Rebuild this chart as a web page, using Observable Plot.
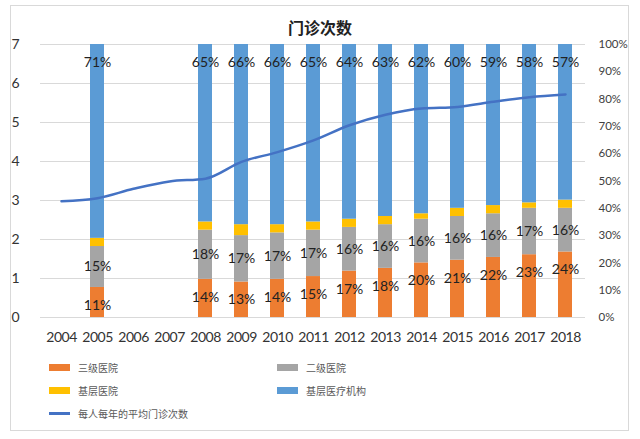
<!DOCTYPE html>
<html>
<head>
<meta charset="utf-8">
<script src="https://cdn.jsdelivr.net/npm/d3@7"></script>
<script src="https://cdn.jsdelivr.net/npm/@observablehq/plot@0.6"></script>
<style>
  html, body { margin: 0; padding: 0; background: #fff; }
  #wrap { position: relative; width: 640px; height: 439px; overflow: hidden; font-family: Lato, "Noto Sans CJK SC", sans-serif; }
  #frame { position: absolute; left: 10px; top: 5px; width: 619px; height: 426px; border: 1px solid #D9D9D9; box-sizing: border-box; }
  #title { position: absolute; left: 0; width: 640px; top: 16px; text-align: center; font: bold 16px "Noto Sans CJK SC", sans-serif; color: #222; line-height: 22px; }
  #chart { position: absolute; left: 0; top: 0; }
  #chart [aria-label="x-axis tick label"] text { letter-spacing: -0.5px; }
  #legend { position: absolute; left: 49px; top: 359px; width: 560px; font: 10px "Noto Sans CJK SC", sans-serif; color: #595959; }
  .item { position: absolute; display: flex; align-items: center; height: 16px; white-space: nowrap; }
  .sw { width: 21px; height: 7px; margin-right: 8px; }
  .ln { width: 21px; height: 3px; margin-right: 8px; }
</style>
</head>
<body>
<div id="wrap">
  <div id="frame"></div>
  <div id="chart"></div>
  <div id="title"></div>
  <div id="legend"></div>
</div>
<script>
// ---- data ----
const title = "门诊次数";
const years = ["2004","2005","2006","2007","2008","2009","2010","2011","2012","2013","2014","2015","2016","2017","2018"];
const visits = [2.98, 3.06, 3.30, 3.49, 3.56, 3.99, 4.24, 4.54, 4.93, 5.20, 5.36, 5.40, 5.53, 5.65, 5.72];
const barYears = ["2005","2008","2009","2010","2011","2012","2013","2014","2015","2016","2017","2018"];
const tertiary = [11, 14, 13, 14, 15, 17, 18, 20, 21, 22, 23, 24];      // 三级医院 %
const secondary = [15, 18, 17, 17, 17, 16, 16, 16, 16, 16, 17, 16];     // 二级医院 %
const grassrootsHosp = [3, 3, 4, 3, 3, 3, 3, 2, 3, 3, 2, 3];            // 基层医院 %
const primaryCare = [71, 65, 66, 66, 65, 64, 63, 62, 60, 59, 58, 57];   // 基层医疗机构 %
const seriesNames = ["三级医院", "二级医院", "基层医院", "基层医疗机构"];
const seriesColors = ["#ED7D31", "#A5A5A5", "#FFC000", "#5B9BD5"];
const lineName = "每人每年的平均门诊次数";
const lineColor = "#4472C4";
const leftTicks = [0, 1, 2, 3, 4, 5, 6, 7];
const rightTicks = [0, 10, 20, 30, 40, 50, 60, 70, 80, 90, 100];

// ---- build ----
const yMax = 7;                // left axis max; right axis 100% maps onto it
const pctToY = p => p * yMax / 100;

const stacked = [];
barYears.forEach((yr, i) => {
  [tertiary[i], secondary[i], grassrootsHosp[i], primaryCare[i]].forEach((v, k) => {
    stacked.push({year: yr, type: seriesNames[k], value: pctToY(v), pct: v});
  });
});
const barRows = barYears.map((yr, i) => ({
  year: yr,
  t: tertiary[i], s: secondary[i], g: grassrootsHosp[i], p: primaryCare[i],
  total: tertiary[i] + secondary[i] + grassrootsHosp[i] + primaryCare[i]
}));
const lineRows = years.map((yr, i) => ({year: yr, v: visits[i]}));

const labelFont = {fontSize: 14, fill: "#222", fontFamily: "Lato"};

const plot = Plot.plot({
  width: 640,
  height: 350,
  marginTop: 44,
  marginBottom: 33,
  marginLeft: 40,
  marginRight: 55,
  style: {fontFamily: "Lato", background: "transparent", overflow: "visible"},
  x: {type: "band", domain: years, paddingInner: 0.615, paddingOuter: 0.31},
  y: {domain: [0, yMax]},
  color: {domain: seriesNames, range: seriesColors},
  marks: [
    Plot.gridY(leftTicks, {stroke: "#D9D9D9", strokeOpacity: 1, strokeWidth: 1}),
    Plot.barY(stacked, Plot.stackY({x: "year", y: "value", fill: "type", order: null})),
    Plot.lineY(lineRows, {x: "year", y: "v", stroke: lineColor, strokeWidth: 2.5, curve: "monotone-x"}),
    // 三级医院 labels: inside end of segment
    Plot.text(barRows, {x: "year", y: d => pctToY(d.t), text: d => d.t + "%", dy: 18, ...labelFont}),
    // 二级医院 labels: centered
    Plot.text(barRows, {x: "year", y: d => pctToY(d.t + d.s / 2), text: d => d.s + "%", ...labelFont}),
    // 基层医疗机构 labels: inside end
    Plot.text(barRows, {x: "year", y: d => pctToY(d.total), text: d => d.p + "%", dy: 18, ...labelFont}),
    Plot.axisX({tickSize: 0, tickPadding: 15, fontSize: 14, color: "#333", label: null}),
    Plot.axisY({anchor: "left", ticks: leftTicks, tickFormat: d3.format("d"), tickSize: 0, tickPadding: 21, fontSize: 14, color: "#333", label: null}),
    Plot.axisY({anchor: "right", ticks: rightTicks.map(pctToY), tickFormat: d => Math.round(d / yMax * 100) + "%", tickSize: 0, tickPadding: 13, fontSize: 11.5, color: "#404040", label: null, textAnchor: "start"})
  ]
});
document.getElementById("chart").appendChild(plot);
document.getElementById("title").textContent = title;

// legend
const legend = document.getElementById("legend");
const pos = [[0, 0], [228, 0], [0, 23], [228, 23]];
seriesNames.forEach((n, k) => {
  const it = document.createElement("div");
  it.className = "item";
  it.style.left = pos[k][0] + "px";
  it.style.top = pos[k][1] + "px";
  it.innerHTML = `<span class="sw" style="background:${seriesColors[k]}"></span><span>${n}</span>`;
  legend.appendChild(it);
});
const li = document.createElement("div");
li.className = "item";
li.style.left = "0px";
li.style.top = "46px";
li.innerHTML = `<span class="ln" style="background:${lineColor}"></span><span>${lineName}</span>`;
legend.appendChild(li);
</script>
</body>
</html>
